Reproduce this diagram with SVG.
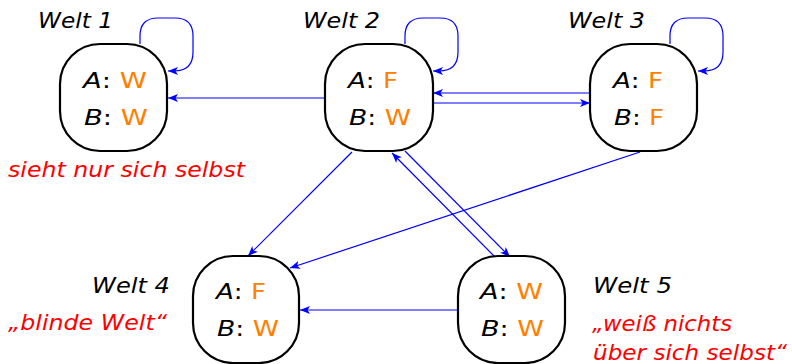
<svg xmlns="http://www.w3.org/2000/svg" width="792" height="364" viewBox="0 0 792 364">
  <defs>
    <marker id="ah" viewBox="0 0 10 8" refX="10" refY="4" markerWidth="10" markerHeight="8" markerUnits="userSpaceOnUse" orient="auto">
      <path d="M0,0 L10,4 L0,8 L2.5,4 Z" fill="#0000ff"/>
    </marker>
  </defs>
  <style>
    .world { fill: #ffffff; stroke: #000000; stroke-width: 2.2; }
    .lbl { font-family: "DejaVu Sans", "Liberation Sans", sans-serif; font-size: 22px; fill: #000000; }
    .var { font-style: italic; }
    .val { fill: #ff8000; }
    .title { font-family: "DejaVu Sans", "Liberation Sans", sans-serif; font-size: 22px; font-style: italic; fill: #000000; }
    .note { font-family: "DejaVu Sans", "Liberation Sans", sans-serif; font-size: 22px; font-style: italic; fill: #ff0000; }
    .edge { fill: none; stroke: #0000ff; stroke-width: 1.2; marker-end: url(#ah); }
  </style>

  <!-- accessibility relation -->
  <g id="connectors">
    <path class="edge" d="M140,44 V36 Q140,18 158,18 H175 Q193,18 193,36 V52 Q193,71 174,71 H168"/>
    <path class="edge" d="M405,44 V36 Q405,18 423,18 H440 Q458,18 458,36 V52 Q458,71 439,71 H433"/>
    <path class="edge" d="M670,44 V36 Q670,18 688,18 H705 Q723,18 723,36 V52 Q723,71 704,71 H698"/>
    <path class="edge" d="M325,98 H168"/>
    <path class="edge" d="M590,93 H433"/>
    <path class="edge" d="M433,103 H590"/>
    <path class="edge" d="M352,152 L248,256"/>
    <path class="edge" d="M640,152 L290,268"/>
    <path class="edge" d="M495,257 L392,153"/>
    <path class="edge" d="M405,151 L510,257"/>
    <path class="edge" d="M458,310 H300"/>
  </g>

  <g id="welt1">
    <rect class="world" x="60" y="44" width="107" height="107" rx="40" ry="40"/>
    <text class="lbl" x="83" y="88" textLength="64" lengthAdjust="spacingAndGlyphs"><tspan class="var">A</tspan>: <tspan class="val">W</tspan></text>
    <text class="lbl" x="84" y="125" textLength="64" lengthAdjust="spacingAndGlyphs"><tspan class="var">B</tspan>: <tspan class="val">W</tspan></text>
    <text class="title" x="38" y="28" textLength="75" lengthAdjust="spacingAndGlyphs">Welt 1</text>
    <text class="note" x="8" y="177" textLength="237" lengthAdjust="spacingAndGlyphs">sieht nur sich selbst</text>
  </g>

  <g id="welt2">
    <rect class="world" x="325" y="44" width="108" height="107" rx="40" ry="40"/>
    <text class="lbl" x="348" y="88" textLength="50" lengthAdjust="spacingAndGlyphs"><tspan class="var">A</tspan>: <tspan class="val">F</tspan></text>
    <text class="lbl" x="349" y="125" textLength="62" lengthAdjust="spacingAndGlyphs"><tspan class="var">B</tspan>: <tspan class="val">W</tspan></text>
    <text class="title" x="303" y="28" textLength="77" lengthAdjust="spacingAndGlyphs">Welt 2</text>
  </g>

  <g id="welt3">
    <rect class="world" x="590" y="44" width="107" height="107" rx="40" ry="40"/>
    <text class="lbl" x="613" y="88" textLength="50" lengthAdjust="spacingAndGlyphs"><tspan class="var">A</tspan>: <tspan class="val">F</tspan></text>
    <text class="lbl" x="614" y="125" textLength="50" lengthAdjust="spacingAndGlyphs"><tspan class="var">B</tspan>: <tspan class="val">F</tspan></text>
    <text class="title" x="568" y="28" textLength="77" lengthAdjust="spacingAndGlyphs">Welt 3</text>
  </g>

  <g id="welt4">
    <rect class="world" x="193" y="256" width="106" height="107" rx="40" ry="40"/>
    <text class="lbl" x="216" y="299" textLength="50" lengthAdjust="spacingAndGlyphs"><tspan class="var">A</tspan>: <tspan class="val">F</tspan></text>
    <text class="lbl" x="217" y="336" textLength="62" lengthAdjust="spacingAndGlyphs"><tspan class="var">B</tspan>: <tspan class="val">W</tspan></text>
    <text class="title" x="92" y="293" textLength="78" lengthAdjust="spacingAndGlyphs">Welt 4</text>
    <text class="note" x="8" y="330" textLength="159" lengthAdjust="spacingAndGlyphs">„blinde Welt“</text>
  </g>

  <g id="welt5">
    <rect class="world" x="458" y="256" width="107" height="107" rx="40" ry="40"/>
    <text class="lbl" x="480" y="299" textLength="63" lengthAdjust="spacingAndGlyphs"><tspan class="var">A</tspan>: <tspan class="val">W</tspan></text>
    <text class="lbl" x="481" y="336" textLength="63" lengthAdjust="spacingAndGlyphs"><tspan class="var">B</tspan>: <tspan class="val">W</tspan></text>
    <text class="title" x="593" y="293" textLength="79" lengthAdjust="spacingAndGlyphs">Welt 5</text>
    <text class="note" x="592" y="331" textLength="140" lengthAdjust="spacingAndGlyphs">„weiß nichts</text>
    <text class="note" x="593" y="360" textLength="194" lengthAdjust="spacingAndGlyphs">über sich selbst“</text>
  </g>
</svg>
